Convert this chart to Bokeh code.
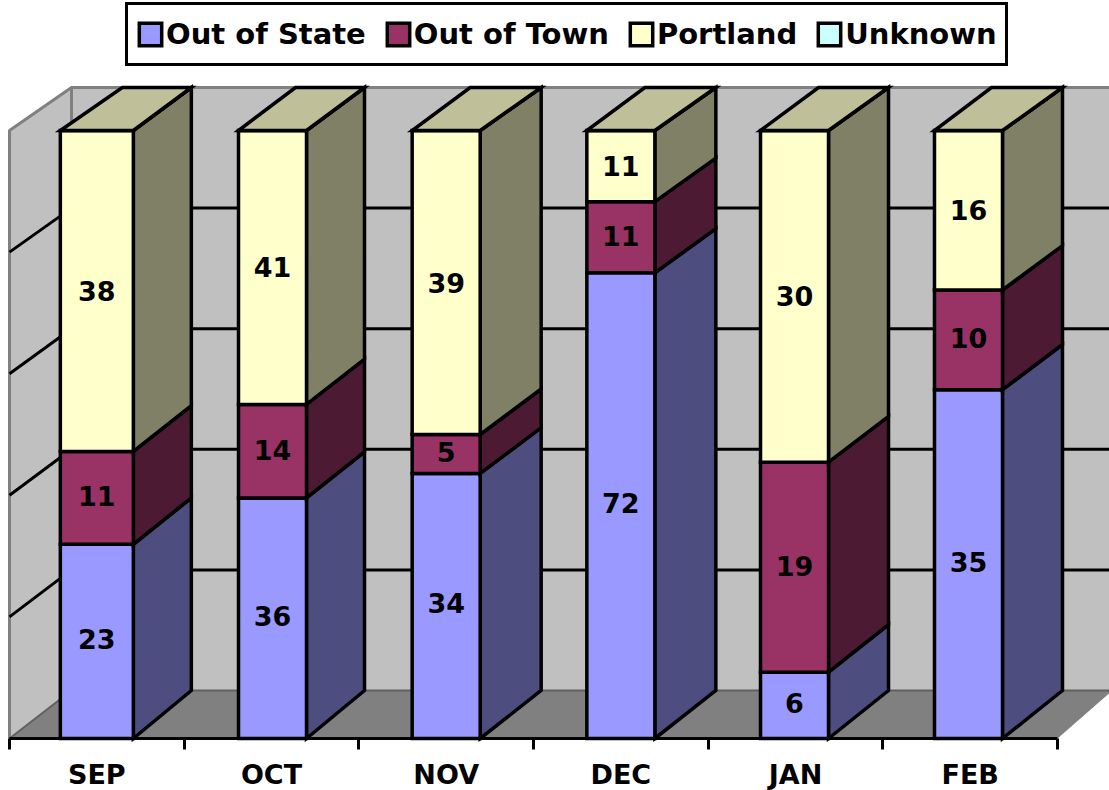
from bokeh.embed import file_html
from bokeh.resources import INLINE
from bokeh.plotting import figure
from bokeh.models import (ColumnDataSource, Range1d, LinearAxis, FixedTicker,
                          Legend, LegendItem)
from bokeh.core.properties import value

# ---- data ----
months = ["SEP", "OCT", "NOV", "DEC", "JAN", "FEB"]
out_of_state = [23, 36, 34, 72, 6, 35]
out_of_town = [11, 14, 5, 11, 19, 10]
portland = [38, 41, 39, 11, 30, 16]
unknown = [0, 0, 0, 0, 0, 0]
series_names = ["Out of State", "Out of Town", "Portland", "Unknown"]

# ---- style ----
front_colors = ["#9999FF", "#993366", "#FFFFCC", "#CCFFFF"]
side_colors = ["#4D4D80", "#4D1A33", "#808066", "#668080"]
top_color = "#BFBF99"
WALL = "#C0C0C0"
FLOOR = "#808080"
EDGE = "#808080"
FONT = "DejaVu Sans"
LW = 3.5

W, H = 1109, 790
PX_X = 174.67              # pixels per category
PX_Y = 6.08                # pixels per percent on the front plane
X0, Y0 = 9, 738            # canvas position of the origin
DEPTH_BASE = 48 / PX_Y     # depth offset at 0 %
DEPTH_SCALE = 603 / 608    # back wall is slightly shorter
DX_L = 62 / PX_X           # wall depth at the left end
DX_R = 55 / PX_X           # wall depth at the right end
# the original's rounding of each bar, in pixels
bar_w_px = [73, 68, 68, 68, 68, 68]
bar_shift_px = [0, 1, 0, 0, -1, -1.7]
depth_l_px = [62, 57, 58, 58, 58, 57]
depth_r_px = [58, 58, 61, 61, 60, 60]
label_lift_px = [2.5, 1.5, 0, 0]


def back_y(v):
    return v * DEPTH_SCALE + DEPTH_BASE


p = figure(width=W, height=H, output_backend="svg", toolbar_location=None,
           x_axis_type=None, y_axis_type=None, min_border=0,
           x_range=Range1d(-X0 / PX_X, (W - X0) / PX_X),
           y_range=Range1d((Y0 - H) / PX_Y, Y0 / PX_Y))
p.grid.visible = False
p.outline_line_color = None
p.background_fill_color = "white"
p.border_fill_color = "white"

n = len(months)
# walls and floor
p.patch([DX_L, n + DX_R, n + DX_R, DX_L], [back_y(0), back_y(0), back_y(100), back_y(100)],
        fill_color=WALL, line_color=None)
p.patch([0, DX_L, DX_L, 0], [0, back_y(0), back_y(100), 100],
        fill_color=WALL, line_color=None)
p.patch([0, n, n + DX_R, DX_L], [0, 0, back_y(0), back_y(0)],
        fill_color=FLOOR, line_color=None)
# wall edges
p.line([0, 0, DX_L, n + DX_R], [0, 100, back_y(100), back_y(100)], line_color=EDGE, line_width=3)
p.line([DX_L, DX_L], [back_y(0), back_y(100)], line_color=EDGE, line_width=3)
p.line([0, DX_L, n + DX_R], [0, back_y(0), back_y(0)], line_color="#606060", line_width=2)
# grid lines
for v in (20, 40, 60, 80):
    p.line([0, DX_L, n + DX_R], [v, back_y(v), back_y(v)], line_color="black", line_width=3)


def bar_edges(i):
    c = i + 0.5 + bar_shift_px[i] / PX_X
    hw = bar_w_px[i] / PX_X / 2
    return c, c - hw, c + hw


# stacked bars
stacks = [out_of_state, out_of_town, portland, unknown]
totals = [sum(s[i] for s in stacks) for i in range(n)]
legend_items = []
lbl_x, lbl_y, lbl_t = [], [], []
for k, s in enumerate(stacks):
    left, right, bottom, top = [], [], [], []
    xs, ys = [], []
    for i in range(n):
        below = sum(stacks[j][i] for j in range(k))
        b = below / totals[i] * 100
        t = (below + s[i]) / totals[i] * 100
        c, l, r = bar_edges(i)
        dr = depth_r_px[i] / PX_X
        left.append(l); right.append(r); bottom.append(b); top.append(t)
        xs.append([r, r + dr, r + dr, r])
        ys.append([b, back_y(b), back_y(t), t])
        if s[i] > 0:
            lbl_x.append(c)
            lbl_y.append((b + t) / 2 + label_lift_px[k] / PX_Y)
            lbl_t.append(str(s[i]))
    p.patches(xs, ys, fill_color=side_colors[k], line_color="black", line_width=LW,
              line_join="miter")
    rf = p.quad(left=left, right=right, bottom=bottom, top=top,
                fill_color=front_colors[k], line_color="black", line_width=LW,
                line_join="miter")
    legend_items.append(LegendItem(label=series_names[k], renderers=[rf]))

# bar tops
tx, ty = [], []
for i in range(n):
    c, l, r = bar_edges(i)
    tx.append([l, r, r + depth_r_px[i] / PX_X, l + depth_l_px[i] / PX_X])
    ty.append([100, 100, back_y(100), back_y(100)])
p.patches(tx, ty, fill_color=top_color, line_color="black", line_width=LW, line_join="miter")

# value labels
p.text(x="x", y="y", text="t", source=ColumnDataSource(dict(x=lbl_x, y=lbl_y, t=lbl_t)),
       text_align="center", text_baseline="middle", text_color="black",
       text_font=value(FONT), text_font_style="bold", text_font_size="27px")

# category axis at the front of the floor
axis = LinearAxis(fixed_location=0,
                  ticker=FixedTicker(ticks=[i + 0.5 for i in range(n)],
                                     minor_ticks=list(range(n + 1))),
                  major_label_overrides={i + 0.5: m for i, m in enumerate(months)},
                  bounds=(0, n))
axis.axis_line_color = "black"
axis.axis_line_width = 3
axis.major_tick_in = 0
axis.major_tick_out = 0
axis.minor_tick_in = 0
axis.minor_tick_out = 11
axis.minor_tick_line_color = "black"
axis.minor_tick_line_width = 3
axis.major_label_standoff = 9
axis.major_label_text_font = FONT
axis.major_label_text_font_style = "bold"
axis.major_label_text_font_size = "27px"
axis.major_label_text_color = "black"
p.add_layout(axis, "below")

legend = Legend(items=legend_items, orientation="horizontal", location=(125, 724),
                border_line_color="black", border_line_width=3, border_line_alpha=1,
                background_fill_color="white", background_fill_alpha=1,
                label_text_font=FONT, label_text_font_style="bold",
                label_text_font_size="29px", label_text_color="black",
                glyph_width=28, glyph_height=28, label_standoff=2,
                spacing=18, padding=8, margin=0, label_height=42)
p.add_layout(legend, "center")

open("out.html", "w").write(file_html(p, INLINE))
